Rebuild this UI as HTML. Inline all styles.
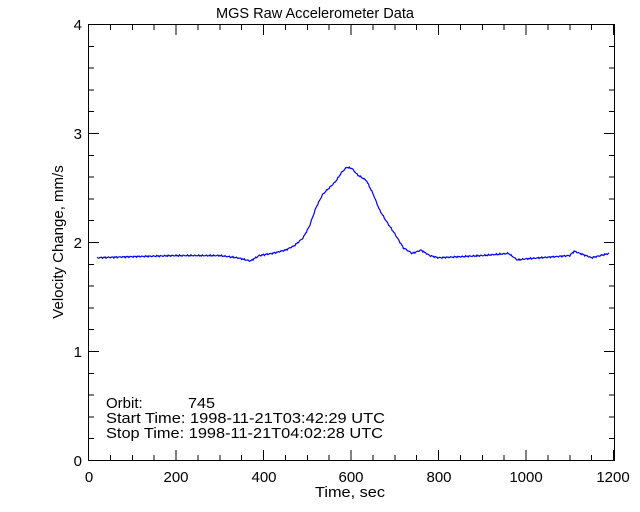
<!DOCTYPE html>
<html><head><style>
html,body{margin:0;padding:0;background:#fff;}
svg{display:block;}
text{font-family:"Liberation Sans",sans-serif;font-size:15px;fill:#000;}
</style></head><body>
<svg width="640" height="512" viewBox="0 0 640 512" xmlns="http://www.w3.org/2000/svg">
<rect width="640" height="512" fill="#fff"/>
<g stroke="#000" stroke-width="1" fill="none" shape-rendering="crispEdges">
<rect x="88.5" y="24.5" width="526" height="436"/>
</g>
<g id="ticks" stroke="#000" stroke-width="1" shape-rendering="crispEdges"></g>
<text x="216" y="18" font-size="16" textLength="198" lengthAdjust="spacingAndGlyphs">MGS Raw Accelerometer Data</text>
<g text-anchor="middle">
<text x="89" y="482">0</text><text x="176" y="482">200</text><text x="264" y="482">400</text>
<text x="351" y="482">600</text><text x="439" y="482">800</text><text x="526" y="482">1000</text><text x="613" y="482">1200</text>
</g>
<text x="315" y="497" textLength="70" lengthAdjust="spacingAndGlyphs">Time, sec</text>
<g text-anchor="end">
<text x="82" y="466">0</text><text x="82" y="357">1</text><text x="82" y="248">2</text>
<text x="82" y="139">3</text><text x="82" y="30">4</text>
</g>
<text transform="translate(63,242) rotate(-90)" text-anchor="middle">Velocity Change, mm/s</text>
<text x="106" y="408" font-size="14">Orbit:</text>
<text x="188" y="408" font-size="14" textLength="27" lengthAdjust="spacingAndGlyphs">745</text>
<text x="106" y="423" font-size="14" textLength="279" lengthAdjust="spacingAndGlyphs">Start Time: 1998-11-21T03:42:29 UTC</text>
<text x="106" y="438" font-size="14" textLength="277" lengthAdjust="spacingAndGlyphs">Stop Time: 1998-11-21T04:02:28 UTC</text>
<polyline id="d" fill="none" stroke="#0000ff" stroke-width="1.2" points=""/>
</svg>
<script>
var X=t=>88.5+t*525/1200, Y=v=>460.5-v*109;
var s="";
for(var t=0;t<=1200;t+=50){var L=(t%200==0)?10:5;s+=`<line x1="${X(t)}" y1="460" x2="${X(t)}" y2="${460-L}"/><line x1="${X(t)}" y1="25" x2="${X(t)}" y2="${25+L}"/>`;}
for(var i=0;i<=20;i++){var v=i*0.2,L=(i%5==0)?10:5;s+=`<line x1="89" y1="${Y(v)}" x2="${89+L}" y2="${Y(v)}"/><line x1="614" y1="${Y(v)}" x2="${614-L}" y2="${Y(v)}"/>`;}
document.getElementById("ticks").innerHTML=s;
var k=[[20,1.86],[100,1.87],[200,1.88],[300,1.88],[340,1.86],[370,1.83],[390,1.88],[420,1.9],[450,1.93],[470,1.97],[490,2.04],[505,2.15],[520,2.32],[535,2.44],[550,2.5],[565,2.56],[578,2.64],[590,2.69],[602,2.68],[615,2.62],[635,2.57],[650,2.45],[665,2.3],[680,2.2],[700,2.08],[720,1.95],[740,1.9],[760,1.93],[780,1.88],[800,1.86],[900,1.88],[960,1.9],[980,1.84],[1000,1.85],[1100,1.88],[1110,1.92],[1150,1.86],[1190,1.9]];
var p=[];
for(var t=20;t<=1190;t+=2){var j=0;while(j<k.length-2&&k[j+1][0]<t)j++;var a=k[j],b=k[j+1];var f=(t-a[0])/(b[0]-a[0]);var v=a[1]+(b[1]-a[1])*f+(Math.sin(t*1.7)+Math.sin(t*0.73))*0.004;p.push(X(t).toFixed(1)+","+Y(v).toFixed(1));}
document.getElementById("d").setAttribute("points",p.join(" "));
</script>
</body></html>
